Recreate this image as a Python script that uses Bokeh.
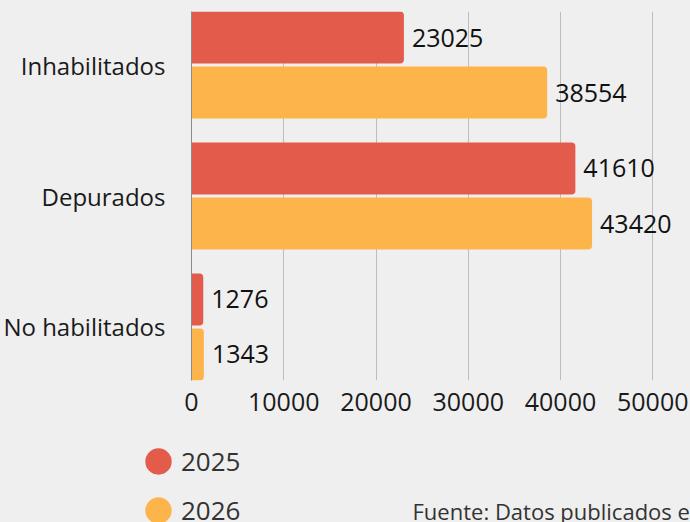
from bokeh.plotting import figure
from bokeh.layouts import column
from bokeh.models import (ColumnDataSource, FactorRange, Range1d, LabelSet, Legend,
                          LegendItem, Label, FixedTicker, NumeralTickFormatter)
from bokeh.transform import dodge
from bokeh.core.properties import value
from bokeh.embed import file_html
from bokeh.resources import INLINE

# ---- data ----
categories = ["Inhabilitados", "Depurados", "No habilitados"]
series_names = ["2025", "2026"]
values_2025 = [23025, 41610, 1276]
values_2026 = [38554, 43420, 1343]
x_ticks = [0, 10000, 20000, 30000, 40000, 50000]
colors = ["#E35B4B", "#FDB54B"]
source_text = "Fuente: Datos publicados en"

FONT = "Open Sans"
BG = "#EFEFEF"

src = ColumnDataSource(dict(cat=categories, v2025=values_2025, v2026=values_2026))

y_range = FactorRange(factors=list(reversed(categories)),
                      range_padding=-0.0915, range_padding_units="absolute")

p = figure(width=690, height=430, y_range=y_range, x_range=Range1d(0, 54089),
           output_backend="svg", toolbar_location=None,
           min_border_left=191, min_border_right=0, min_border_top=11,
           min_border_bottom=50)
p.frame_align = False
p.background_fill_color = BG
p.border_fill_color = BG
p.outline_line_color = None

off = 0.21
bh = 0.397
p.hbar(y=dodge("cat", off, range=p.y_range), right="v2025", height=bh, source=src,
       fill_color=colors[0], line_color=None, border_radius=(0, 4, 4, 0))
p.hbar(y=dodge("cat", -off, range=p.y_range), right="v2026", height=bh, source=src,
       fill_color=colors[1], line_color=None, border_radius=(0, 4, 4, 0))

for col, o in (("v2025", off), ("v2026", -off)):
    p.add_layout(LabelSet(x=col, y=dodge("cat", o, range=p.y_range), text=col,
                          source=src, x_offset=8, text_baseline="middle",
                          text_font=value(FONT), text_font_size="25px",
                          text_color="#111111"))

# axes
p.xaxis.ticker = FixedTicker(ticks=x_ticks)
p.xaxis.formatter = NumeralTickFormatter(format="0")
p.xaxis.axis_line_color = None
p.xaxis.major_tick_line_color = None
p.xaxis.minor_tick_line_color = None
p.xaxis.major_label_text_font = FONT
p.xaxis.major_label_text_font_size = "25px"
p.xaxis.major_label_text_color = "#1a1a1a"
p.xaxis.major_label_standoff = 6

p.yaxis.axis_line_color = "#8a8a8a"
p.yaxis.major_tick_line_color = None
p.yaxis.minor_tick_line_color = None
p.yaxis.major_label_text_font = FONT
p.yaxis.major_label_text_font_size = "24px"
p.yaxis.major_label_text_color = "#1a1a1a"
p.yaxis.major_label_standoff = 20

p.xgrid.grid_line_color = "#BDBDBD"
p.ygrid.grid_line_color = None

# ---- legend + source panel ----
q = figure(width=690, height=92, x_range=Range1d(0, 1), y_range=Range1d(0, 1),
           output_backend="svg", toolbar_location=None,
           min_border=0, min_border_left=0, min_border_right=0,
           min_border_top=0, min_border_bottom=0)
q.frame_align = False
q.axis.visible = False
q.grid.visible = False
q.background_fill_color = BG
q.border_fill_color = BG
q.outline_line_color = None

# hidden proxies that only supply the legend glyphs
r1 = q.scatter(x="v2025", y="v2026", source=src, marker="circle", size=18,
               fill_color=colors[0], line_color=colors[0], line_width=8, visible=False)
r2 = q.scatter(x="v2025", y="v2026", source=src, marker="circle", size=18,
               fill_color=colors[1], line_color=colors[1], line_width=8, visible=False)
legend = Legend(items=[LegendItem(label=series_names[0], renderers=[r1], index=0),
                       LegendItem(label=series_names[1], renderers=[r2], index=0)],
                location=(135, -11), orientation="vertical",
                glyph_width=46, glyph_height=46, spacing=3, label_standoff=0,
                padding=0, margin=0, border_line_color=None,
                background_fill_alpha=0, inactive_fill_alpha=0,
                label_text_font=FONT, label_text_font_size="26px",
                label_text_color="#333333")
q.add_layout(legend, "center")

q.add_layout(Label(x=412, y=12, x_units="screen", y_units="screen",
                   text=source_text, text_font=FONT, text_font_size="22px",
                   text_color="#333333", text_baseline="alphabetic"))

layout = column(p, q, spacing=0, styles={"background-color": BG})
open("out.html", "w").write(file_html(layout, INLINE))
